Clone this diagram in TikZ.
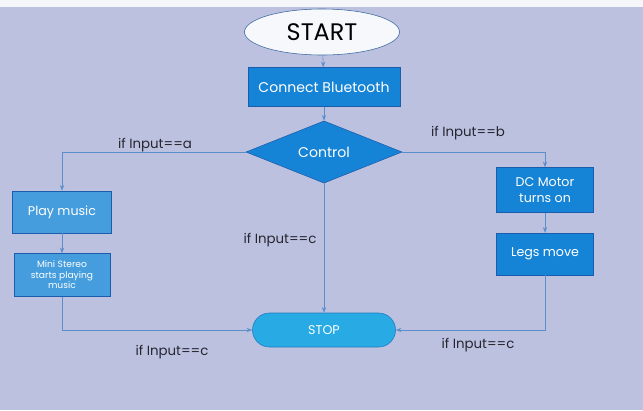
\documentclass[tikz,border=0pt]{standalone}
\usepackage{fontspec}
\setmainfont{Poppins}
\usetikzlibrary{shapes.geometric,arrows.meta}
\definecolor{screenbg}{RGB}{188,193,224}
\definecolor{boxblue}{RGB}{22,132,214}
\definecolor{boxedge}{RGB}{28,92,172}
\definecolor{stopblue}{RGB}{40,170,228}
\definecolor{linkblue}{RGB}{92,142,204}
\definecolor{labgrey}{RGB}{38,38,48}
\tikzset{
  stepbox/.style={rectangle,draw=boxedge,fill=boxblue,text=white,align=center,inner sep=2pt},
  link/.style={draw=linkblue,-{Stealth[length=4pt,width=3pt]}},
  cond/.style={text=labgrey,font=\fontsize{9.5}{10}\selectfont},
}
\begin{document}
\begin{tikzpicture}[x=0.025cm,y=-0.025cm]
\useasboundingbox[fill=screenbg] (0,0) rectangle (643,410);
\fill[white!85!screenbg] (0,0) rectangle (643,7);
%main column
\node[ellipse,draw=boxedge!70!gray,fill=white!88!screenbg,minimum width=3.875cm,minimum height=1.15cm,
  font=\fontsize{17}{18}\selectfont] (start) at (322,32) {START};
\node[stepbox,minimum width=3.8cm,minimum height=0.975cm,font=\fontsize{10}{12}\selectfont] (bt) at (324,87) {Connect Bluetooth};
\node[diamond,draw=boxedge,fill=boxblue,text=white,minimum width=3.9cm,minimum height=1.375cm,inner sep=0pt,
  font=\fontsize{10}{12}\selectfont] (ctrl) at (324,152) {Control};
\node[rectangle,rounded corners=0.425cm,draw=boxedge!60!stopblue,fill=stopblue,text=white,minimum width=3.575cm,
  minimum height=0.85cm,font=\fontsize{9}{10}\selectfont] (stop) at (324,330) {STOP};
%left branch
\node[stepbox,fill=boxblue!80!white,minimum width=2.475cm,minimum height=1.05cm,
  font=\fontsize{9}{10}\selectfont] (play) at (62,212) {Play music};
\node[stepbox,fill=boxblue!80!white,minimum width=2.4cm,minimum height=1.075cm,
  font=\fontsize{6.5}{7.5}\selectfont] (mini) at (62,275) {Mini Stereo\\starts playing\\music};
%right branch
\node[stepbox,minimum width=2.43cm,minimum height=1.125cm,font=\fontsize{9}{11}\selectfont] (motor) at (545,190) {DC Motor\\turns on};
\node[stepbox,minimum width=2.43cm,minimum height=1.05cm,font=\fontsize{9}{10}\selectfont] (legs) at (545,254) {Legs move};
%connectors
\draw[link] (start) -- (bt);
\draw[link] (bt) -- (ctrl);
\draw[link] (ctrl.west) -| (play.north);
\draw[link] (ctrl.east) -| (motor.north);
\draw[link] (play) -- (mini);
\draw[link] (motor) -- (legs);
\draw[link] (ctrl.south) -- (stop.north);
\draw[link] (mini.south) |- (stop.west);
\draw[link] (legs.south) |- (stop.east);
%conditions
\node[cond] (ifa) at (155,145) {if Input==a};
\node[cond] (ifb) at (468,133) {if Input==b};
\node[cond] (ifcmid) at (280,240) {if Input==c};
\node[cond] (ifcleft) at (172,352) {if Input==c};
\node[cond] (ifcright) at (478,345) {if Input==c};
\end{tikzpicture}
\end{document}
